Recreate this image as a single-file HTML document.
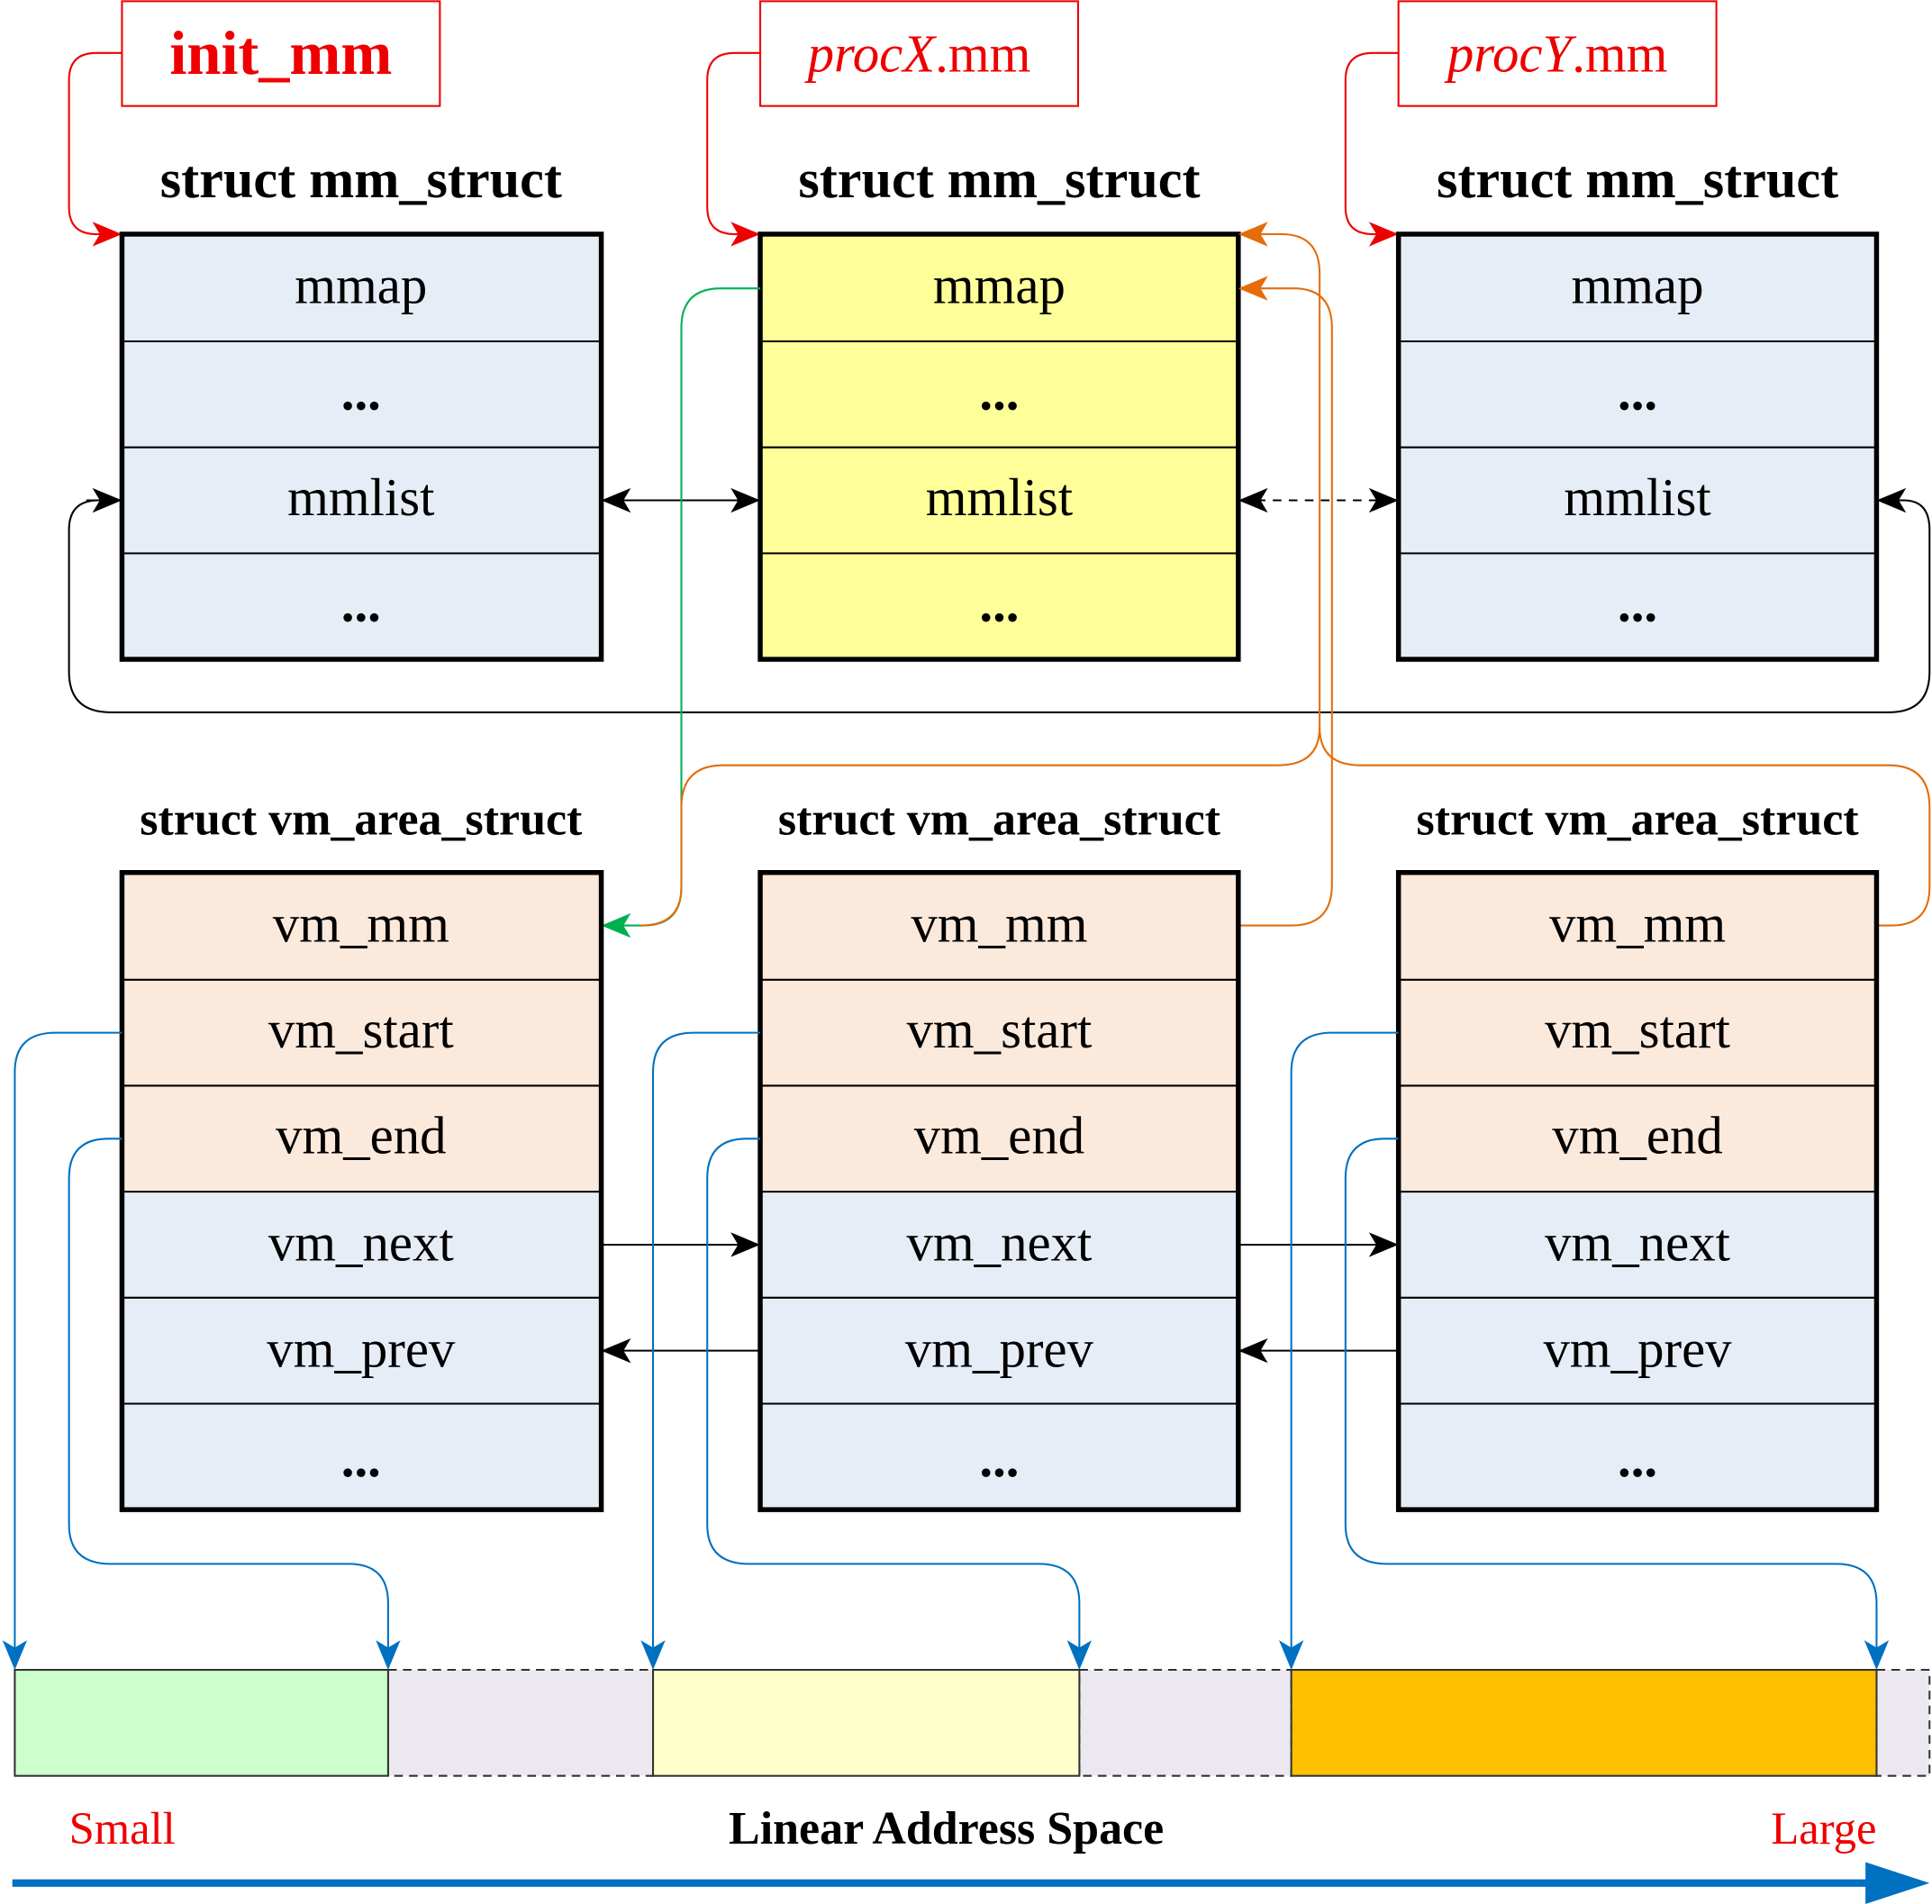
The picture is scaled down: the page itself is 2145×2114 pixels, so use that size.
<!DOCTYPE html>
<html><head><meta charset="utf-8"><style>
html,body{margin:0;padding:0;background:#fff;}
svg{display:block;}
text{font-family:"Liberation Serif",serif;}
</style></head><body>
<svg width="2145" height="2114" viewBox="0 0 1568 1545" preserveAspectRatio="none" xmlns="http://www.w3.org/2000/svg">
<defs>
<marker id="ar" markerWidth="24" markerHeight="24" refX="22" refY="12" orient="auto" markerUnits="userSpaceOnUse" viewBox="0 0 24 24"><path d="M0,2 L24,12 L0,22 L6,12Z" fill="#e00"/></marker>
<marker id="ab" markerWidth="24" markerHeight="24" refX="22" refY="12" orient="auto" markerUnits="userSpaceOnUse" viewBox="0 0 24 24"><path d="M0,2 L24,12 L0,22 L6,12Z" fill="#000"/></marker>
<marker id="abs" markerWidth="24" markerHeight="24" refX="22" refY="12" orient="auto-start-reverse" markerUnits="userSpaceOnUse" viewBox="0 0 24 24"><path d="M0,2 L24,12 L0,22 L6,12Z" fill="#000"/></marker>
<marker id="ao" markerWidth="24" markerHeight="24" refX="22" refY="12" orient="auto" markerUnits="userSpaceOnUse" viewBox="0 0 24 24"><path d="M0,2 L24,12 L0,22 L6,12Z" fill="#e46c0a"/></marker>
<marker id="ag" markerWidth="24" markerHeight="24" refX="22" refY="12" orient="auto" markerUnits="userSpaceOnUse" viewBox="0 0 24 24"><path d="M0,2 L24,12 L0,22 L6,12Z" fill="#00b050"/></marker>
<marker id="au" markerWidth="24" markerHeight="24" refX="22" refY="12" orient="auto" markerUnits="userSpaceOnUse" viewBox="0 0 24 24"><path d="M0,2 L24,12 L0,22 L6,12Z" fill="#0070c0"/></marker>
</defs>

<g fill="#fff" stroke="#e00" stroke-width="1.5">
<rect x="99" y="1" width="258" height="85"/><rect x="617" y="1" width="258" height="85"/><rect x="1135" y="1" width="258" height="85"/>
</g>
<text x="228" y="60" text-anchor="middle" font-size="50" font-weight="bold" fill="#e00">init_mm</text>
<text x="746" y="58" text-anchor="middle" font-size="43" fill="#e00"><tspan font-style="italic">procX</tspan>.mm</text>
<text x="1264" y="58" text-anchor="middle" font-size="43" fill="#e00"><tspan font-style="italic">procY</tspan>.mm</text>

<g fill="none" stroke="#e00" stroke-width="1.5">
<path d="M99,43 H78 Q56,43 56,65 V168 Q56,190 78,190 H97" marker-end="url(#ar)"/>
<path d="M617,43 H596 Q574,43 574,65 V168 Q574,190 596,190 H615" marker-end="url(#ar)"/>
<path d="M1135,43 H1114 Q1092,43 1092,65 V168 Q1092,190 1114,190 H1133" marker-end="url(#ar)"/>
</g>

<g font-size="44" font-weight="bold" text-anchor="middle" fill="#000">
<text x="293" y="160">struct mm_struct</text><text x="811" y="160">struct mm_struct</text><text x="1329" y="160">struct mm_struct</text>
</g>

<g stroke="#000">
<rect x="99" y="190" width="389" height="345" fill="#e6edf7" stroke-width="4"/>
<rect x="617" y="190" width="388" height="345" fill="#ffff99" stroke-width="4"/>
<rect x="1135" y="190" width="388" height="345" fill="#e6edf7" stroke-width="4"/>
<path d="M99,277H488M99,363H488M99,449H488M617,277H1005M617,363H1005M617,449H1005M1135,277H1523M1135,363H1523M1135,449H1523" stroke-width="1.5"/>
</g>
<g font-size="43" text-anchor="middle" fill="#000">
<text x="293" y="246">mmap</text><text x="293" y="332" font-weight="bold">...</text><text x="293" y="418">mmlist</text><text x="293" y="504" font-weight="bold">...</text>
<text x="811" y="246">mmap</text><text x="811" y="332" font-weight="bold">...</text><text x="811" y="418">mmlist</text><text x="811" y="504" font-weight="bold">...</text>
<text x="1329" y="246">mmap</text><text x="1329" y="332" font-weight="bold">...</text><text x="1329" y="418">mmlist</text><text x="1329" y="504" font-weight="bold">...</text>
</g>

<g fill="none" stroke="#000" stroke-width="1.5">
<path d="M490,406 H615" marker-start="url(#abs)" marker-end="url(#abs)"/>
<path d="M1007,406 H1133" stroke-dasharray="7,6" marker-start="url(#abs)" marker-end="url(#abs)"/>
<path d="M80,406 Q56,406 56,430 V545 Q56,578 90,578 H1533 Q1566,578 1566,545 V430 Q1566,406 1545,406 H1525" marker-end="url(#ab)"/>
<path d="M70,406 H97" marker-end="url(#ab)"/>
</g>

<path d="M617,234 H585 Q553,234 553,266 V720 Q553,751 522,751 H490" fill="none" stroke="#00b050" stroke-width="1.5" marker-end="url(#ag)"/>
<g fill="none" stroke="#e46c0a" stroke-width="1.5">
<path d="M520,751 Q553,751 553,720 V655 Q553,621 587,621 H1037 Q1071,621 1071,590 V222 Q1071,190 1040,190 H1007" marker-end="url(#ao)"/>
<path d="M1005,751 H1048 Q1081,751 1081,718 V266 Q1081,234 1050,234 H1007" marker-end="url(#ao)"/>
<path d="M1523,751 H1535 Q1566,751 1566,720 V655 Q1566,621 1533,621 H1104 Q1071,621 1071,590"/>
</g>

<g font-size="38" font-weight="bold" text-anchor="middle" fill="#000">
<text x="293" y="677">struct vm_area_struct</text><text x="811" y="677">struct vm_area_struct</text><text x="1329" y="677">struct vm_area_struct</text>
</g>

<g stroke="#000">
<g fill="#fbe9dc" stroke="none"><rect x="99" y="708" width="389" height="259"/><rect x="617" y="708" width="388" height="259"/><rect x="1135" y="708" width="388" height="259"/></g>
<g fill="#e6edf7" stroke="none"><rect x="99" y="967" width="389" height="258"/><rect x="617" y="967" width="388" height="258"/><rect x="1135" y="967" width="388" height="258"/></g>
<g fill="none" stroke-width="4"><rect x="99" y="708" width="389" height="517"/><rect x="617" y="708" width="388" height="517"/><rect x="1135" y="708" width="388" height="517"/></g>
<path d="M99,795H488M99,881H488M99,967H488M99,1053H488M99,1139H488M617,795H1005M617,881H1005M617,967H1005M617,1053H1005M617,1139H1005M1135,795H1523M1135,881H1523M1135,967H1523M1135,1053H1523M1135,1139H1523" stroke-width="1.5"/>
</g>
<g font-size="43" text-anchor="middle" fill="#000">
<text x="293" y="764">vm_mm</text><text x="293" y="850">vm_start</text><text x="293" y="936">vm_end</text><text x="293" y="1023">vm_next</text><text x="293" y="1109">vm_prev</text><text x="293" y="1198" font-weight="bold">...</text>
<text x="811" y="764">vm_mm</text><text x="811" y="850">vm_start</text><text x="811" y="936">vm_end</text><text x="811" y="1023">vm_next</text><text x="811" y="1109">vm_prev</text><text x="811" y="1198" font-weight="bold">...</text>
<text x="1329" y="764">vm_mm</text><text x="1329" y="850">vm_start</text><text x="1329" y="936">vm_end</text><text x="1329" y="1023">vm_next</text><text x="1329" y="1109">vm_prev</text><text x="1329" y="1198" font-weight="bold">...</text>
</g>
<g fill="none" stroke="#000" stroke-width="1.5">
<path d="M488,1010 H615" marker-end="url(#ab)"/><path d="M1005,1010 H1133" marker-end="url(#ab)"/>
<path d="M617,1096 H490" marker-end="url(#ab)"/><path d="M1135,1096 H1007" marker-end="url(#ab)"/>
</g>

<g fill="none" stroke="#0070c0" stroke-width="1.5">
<path d="M99,838 H45 Q12,838 12,870 V1353" marker-end="url(#au)"/>
<path d="M99,924 H88 Q56,924 56,956 V1237 Q56,1269 90,1269 H283 Q315,1269 315,1301 V1353" marker-end="url(#au)"/>
<path d="M617,838 H563 Q530,838 530,870 V1353" marker-end="url(#au)"/>
<path d="M617,924 H606 Q574,924 574,956 V1237 Q574,1269 608,1269 H843 Q876,1269 876,1301 V1353" marker-end="url(#au)"/>
<path d="M1135,838 H1081 Q1048,838 1048,870 V1353" marker-end="url(#au)"/>
<path d="M1135,924 H1124 Q1092,924 1092,956 V1237 Q1092,1269 1126,1269 H1490 Q1523,1269 1523,1301 V1353" marker-end="url(#au)"/>
</g>

<g stroke="#333" stroke-width="1.5">
<rect x="315" y="1355" width="215" height="86" fill="#ebe8f0" stroke-dasharray="7,5"/>
<rect x="876" y="1355" width="172" height="86" fill="#ebe8f0" stroke-dasharray="7,5"/>
<rect x="1523" y="1355" width="43" height="86" fill="#ebe8f0" stroke-dasharray="7,5"/>
<rect x="12" y="1355" width="303" height="86" fill="#ccffcc"/>
<rect x="530" y="1355" width="346" height="86" fill="#ffffcc"/>
<rect x="1048" y="1355" width="475" height="86" fill="#ffc000"/>
</g>
<text x="56" y="1496" font-size="37" fill="#e00">Small</text>
<text x="768" y="1496" font-size="38" font-weight="bold" text-anchor="middle" fill="#000">Linear Address Space</text>
<text x="1523" y="1496" font-size="37" fill="#e00" text-anchor="end">Large</text>
<path d="M10,1528 H1520" stroke="#0070c0" stroke-width="6"/>
<path d="M1514,1511 L1566,1528 L1514,1545Z" fill="#0070c0"/>
</svg>
</body></html>
